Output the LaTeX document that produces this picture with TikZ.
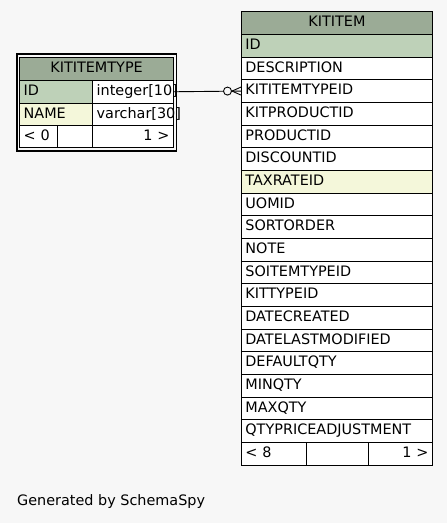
\documentclass[tikz,border=0pt]{standalone}
\usepackage{fontspec}
\setmainfont{DejaVu Sans}
\usetikzlibrary{calc,positioning}
\definecolor{hdrgreen}{HTML}{9BAB96}
\definecolor{pkgreen}{HTML}{BED1B8}
\definecolor{idxyellow}{HTML}{F4F7DA}
\definecolor{bggray}{HTML}{F7F7F7}

\begin{document}
\begin{tikzpicture}[x=1pt, y=-1pt, font=\fontsize{14.4}{16}\selectfont,
	cell/.style={draw, line width=0.8pt, anchor=north west, inner xsep=4pt, inner ysep=0pt,
		text height=10.5pt, text depth=3pt, align=left, fill=white},
	headcell/.style={cell, fill=hdrgreen, align=center},
	conn/.style={line width=0.9pt}]
				\fill[bggray] (0,0) rectangle (447,523);
				\useasboundingbox (0,0) rectangle (447,523);
				
				% KITITEMTYPE
				\node[headcell, text width=145.7pt, minimum height=23.3pt] (ktt-head) at (19.3,56.7) {KITITEMTYPE};
				\node[cell, fill=pkgreen, text width=65pt, minimum height=22.7pt] (ktt-id) at (19.3,80) {ID};
				\node[cell, text width=72.7pt, minimum height=22.7pt] (ktt-idtype) at (92.3,80) {integer[10]};
				\node[cell, fill=idxyellow, text width=65pt, minimum height=22.6pt] (ktt-name) at (19.3,102.7) {NAME};
				\node[cell, text width=72.7pt, minimum height=22.6pt] (ktt-nametype) at (92.3,102.7) {varchar[30]};
				\node[cell, text width=29.4pt, minimum height=22pt] (ktt-foot1) at (19.3,125.3) {< 0};
				\node[cell, text width=27.6pt, minimum height=22pt] (ktt-foot2) at (56.7,125.3) {};
				\node[cell, text width=72.7pt, minimum height=22pt, align=right] (ktt-foot3) at (92.3,125.3) {1 >};
				\draw[line width=1.8pt] ($(ktt-head.north west)+(-2.7,-2.7)$) rectangle ($(ktt-foot3.south east)+(2.7,2.7)$);
				
				% KITITEM
				\node[headcell, text width=183pt, minimum height=23pt] (kti-head) at (241,11) {KITITEM};
				\foreach \name/\shade [count=\i] in {ID/pkgreen, DESCRIPTION/white, KITITEMTYPEID/white,
					KITPRODUCTID/white, PRODUCTID/white, DISCOUNTID/white, TAXRATEID/idxyellow,
					UOMID/white, SORTORDER/white, NOTE/white, SOITEMTYPEID/white, KITTYPEID/white,
					DATECREATED/white, DATELASTMODIFIED/white, DEFAULTQTY/white, MINQTY/white,
					MAXQTY/white, QTYPRICEADJUSTMENT/white}
					\node[cell, fill=\shade, text width=183pt, minimum height=22.67pt] (kti-\i) at (241,{34+(\i-1)*22.67}) {\name};
				\node[cell, text width=57pt, minimum height=23pt] (kti-foot1) at (241,442) {< 8};
				\node[cell, text width=54pt, minimum height=23pt] (kti-foot2) at (306,442) {};
				\node[cell, text width=56pt, minimum height=23pt, align=right] (kti-foot3) at (368,442) {1 >};
				
				% KITITEMTYPE.ID -> KITITEM.KITITEMTYPEID
				\draw[conn] (ktt-idtype.east) -- (kti-3.west);
				\draw[conn] ($(kti-3.west)+(-9,0)$) -- ($(kti-3.west)+(0,-4)$);
				\draw[conn] ($(kti-3.west)+(-9,0)$) -- ($(kti-3.west)+(0,4)$);
				\draw[conn, fill=bggray] ($(kti-3.west)+(-13.5,0)$) circle (4);
				
				\node[anchor=base west, inner sep=0pt] (genby) at (17,505) {Generated by SchemaSpy};
			\end{tikzpicture}
\end{document}
